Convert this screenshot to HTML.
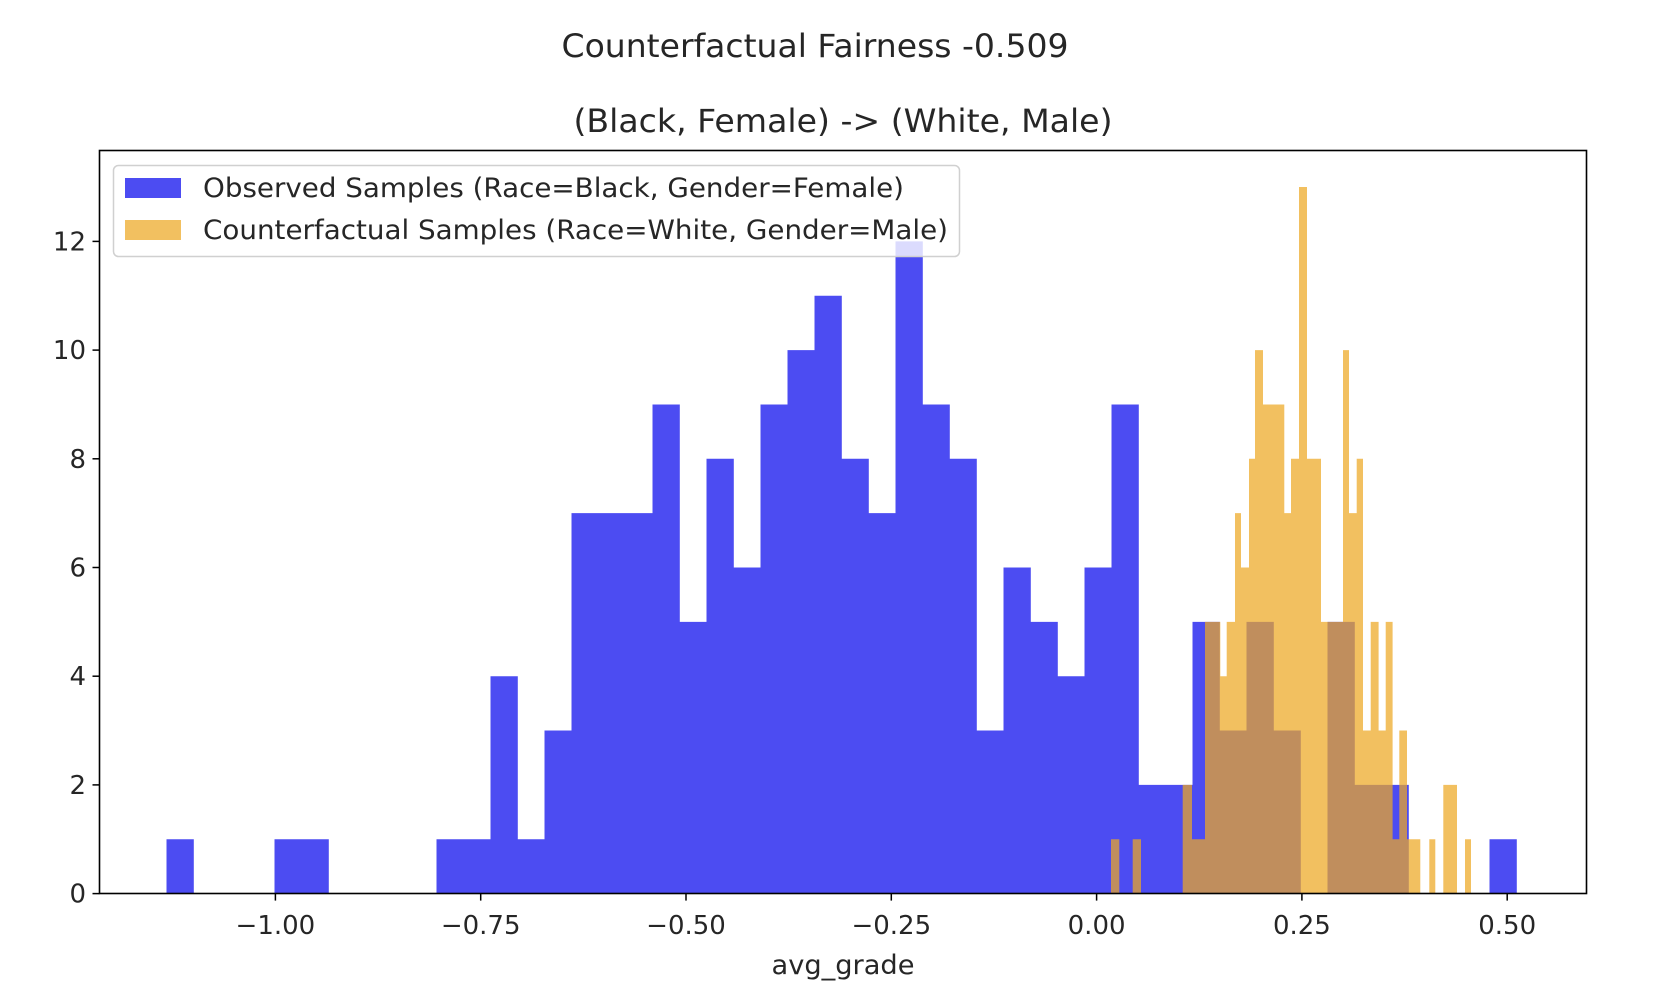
<!DOCTYPE html>
<html><head><meta charset="utf-8"><style>html,body{margin:0;padding:0;background:#fff}svg{display:block}</style></head>
<body>
<svg width="1674" height="1006" viewBox="0 0 1674 1006" xmlns="http://www.w3.org/2000/svg" font-family="'DejaVu Sans','Liberation Sans',sans-serif" fill="#262626">
<rect width="1674" height="1006" fill="#fff"/>
<text x="815" y="57" font-size="32" text-anchor="middle" textLength="507" lengthAdjust="spacingAndGlyphs">Counterfactual Fairness -0.509</text>
<text x="843" y="132" font-size="32" text-anchor="middle" textLength="539" lengthAdjust="spacingAndGlyphs">(Black, Female) -&gt; (White, Male)</text>
<path id="blue" fill="#4c4cf2" d=""/>
<path id="orange" fill="rgb(237,167,34)" fill-opacity="0.72" d=""/>
<g stroke="#000" stroke-width="1.6" fill="none">
<rect x="99.5" y="150.5" width="1487" height="743"/>
</g>
<g id="ticks" stroke="#000" stroke-width="1.5"></g>
<g id="labels" font-size="26"></g>
<text x="843" y="974" font-size="27" text-anchor="middle" textLength="143" lengthAdjust="spacingAndGlyphs">avg_grade</text>
<rect x="113.5" y="165.5" width="846" height="91" rx="5" fill="#fff" fill-opacity="0.8" stroke="#d0d0d0" stroke-width="1.5"/>
<rect x="125" y="178" width="56" height="20" fill="#4c4cf2"/>
<rect x="125" y="220" width="56" height="20" fill="rgb(237,167,34)" fill-opacity="0.72"/>
<text x="203" y="197" font-size="26.5" textLength="701" lengthAdjust="spacingAndGlyphs">Observed Samples (Race=Black, Gender=Female)</text>
<text x="203" y="239" font-size="26.5" textLength="745" lengthAdjust="spacingAndGlyphs">Counterfactual Samples (Race=White, Gender=Male)</text>
<script>
const NS="http://www.w3.org/2000/svg";
const B=893.6,U=54.35;
function rp(a,b,h){const y=B-h*U;return `M${a} ${B}H${b}V${y}H${a}Z`;}
const blue=[1,0,0,0,1,1,0,0,0,0,1,1,4,1,3,7,7,7,9,5,8,6,9,10,11,8,7,12,9,8,3,6,5,4,6,9,2,2,5,3,5,3,0,5,2,2,0,0,0,1];
let d='';
blue.forEach((h,i)=>{if(!h)return;d+=rp(166.5+27*i,166.5+27*i+27.3,h);});
document.getElementById('blue').setAttribute('d',d);
const org=[[1111,1119,1],[1132.7,1140.7,1],[1182.7,1191.7,2],[1191.7,1205,1],[1205,1220,5],[1220,1226.7,4],[1226.7,1235,5],[1235,1240.7,7],[1240.7,1249,6],[1249,1255,8],[1255,1262.7,10],[1262.7,1284,9],[1284,1291,7],[1291,1299,8],[1299,1306.7,13],[1306.7,1320.7,8],[1320.7,1343,5],[1343,1348.7,10],[1348.7,1356.7,7],[1356.7,1362.7,8],[1362.7,1370.7,3],[1370.7,1378.3,5],[1378.3,1385.7,3],[1385.7,1392.3,5],[1392.3,1399.3,1],[1399.3,1406.7,3],[1406.7,1420,1],[1429.3,1435,1],[1443.3,1456.7,2],[1465,1470.7,1]];
d='';
org.forEach(([a,b,h])=>{d+=rp(a,b+0.3,h);});
document.getElementById('orange').setAttribute('d',d);
const gt=document.getElementById('ticks'),gl=document.getElementById('labels');
function line(x1,y1,x2,y2){const l=document.createElementNS(NS,'line');l.setAttribute('x1',x1);l.setAttribute('y1',y1);l.setAttribute('x2',x2);l.setAttribute('y2',y2);gt.appendChild(l);}
function txt(x,y,s,a){const t=document.createElementNS(NS,'text');t.setAttribute('x',x);t.setAttribute('y',y);t.setAttribute('text-anchor',a);t.textContent=s;gl.appendChild(t);}
const xl=['\u22121.00','\u22120.75','\u22120.50','\u22120.25','0.00','0.25','0.50'];
xl.forEach((s,k)=>{const x=275.4+205.3*k;line(x,B,x,B+7);txt(x,934,s,'middle');});
for(let v=0;v<=12;v+=2){const y=B-v*U;line(99.5,y,92.5,y);txt(86,y+9,String(v),'end');}
</script>
</svg>
</body></html>
